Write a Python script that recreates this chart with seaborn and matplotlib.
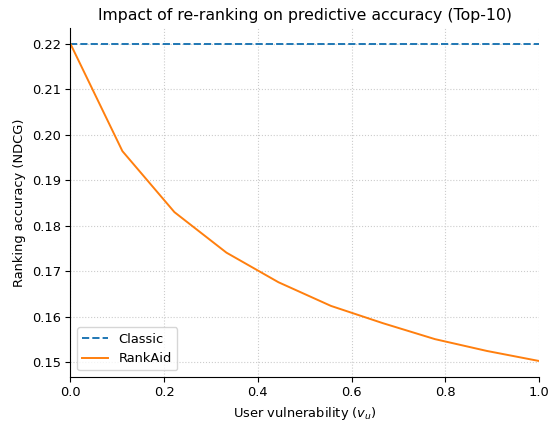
import numpy as np
import pandas as pd
import matplotlib
matplotlib.use("Agg")
import matplotlib.pyplot as plt
import seaborn as sns

# values
vulnerability = [0.0, 0.111, 0.222, 0.333, 0.444, 0.556, 0.667, 0.778, 0.889, 1.0]
classic_ndcg = [0.22, 0.22, 0.22, 0.22, 0.22, 0.22, 0.22, 0.22, 0.22, 0.22]
rankaid_ndcg = [0.22, 0.1964, 0.1830, 0.1741, 0.1676, 0.1624, 0.1586, 0.1551, 0.1525, 0.1503]

df = pd.DataFrame({"v": vulnerability, "Classic": classic_ndcg, "RankAid": rankaid_ndcg})

plt.rcParams['font.family'] = ['DejaVu Sans']
plt.rcParams['font.size'] = 9.4
plt.rcParams['axes.titlesize'] = 11.3
plt.rcParams['xtick.major.size'] = 3.3
plt.rcParams['ytick.major.size'] = 3.3

fig, ax = plt.subplots(figsize=(5.5, 4.22), dpi=100)
sns.lineplot(data=df, x="v", y="Classic", ax=ax, color="#1f77b4", linestyle="--",
             linewidth=1.4, label="Classic")
sns.lineplot(data=df, x="v", y="RankAid", ax=ax, color="#ff7f0e", linewidth=1.4, label="RankAid")

ax.set_xlim(0, 1)
ax.grid(True, linestyle=":", color="#cccccc", linewidth=0.8)
sns.despine(ax=ax)
ax.set_title("Impact of re-ranking on predictive accuracy (Top-10)")
ax.set_xlabel("User vulnerability ($v_u$)")
ax.set_ylabel("Ranking accuracy (NDCG)")
ax.legend(loc="lower left")

fig.subplots_adjust(left=0.128, right=0.98, top=0.934, bottom=0.107)
fig.savefig("out.png", dpi=100)
